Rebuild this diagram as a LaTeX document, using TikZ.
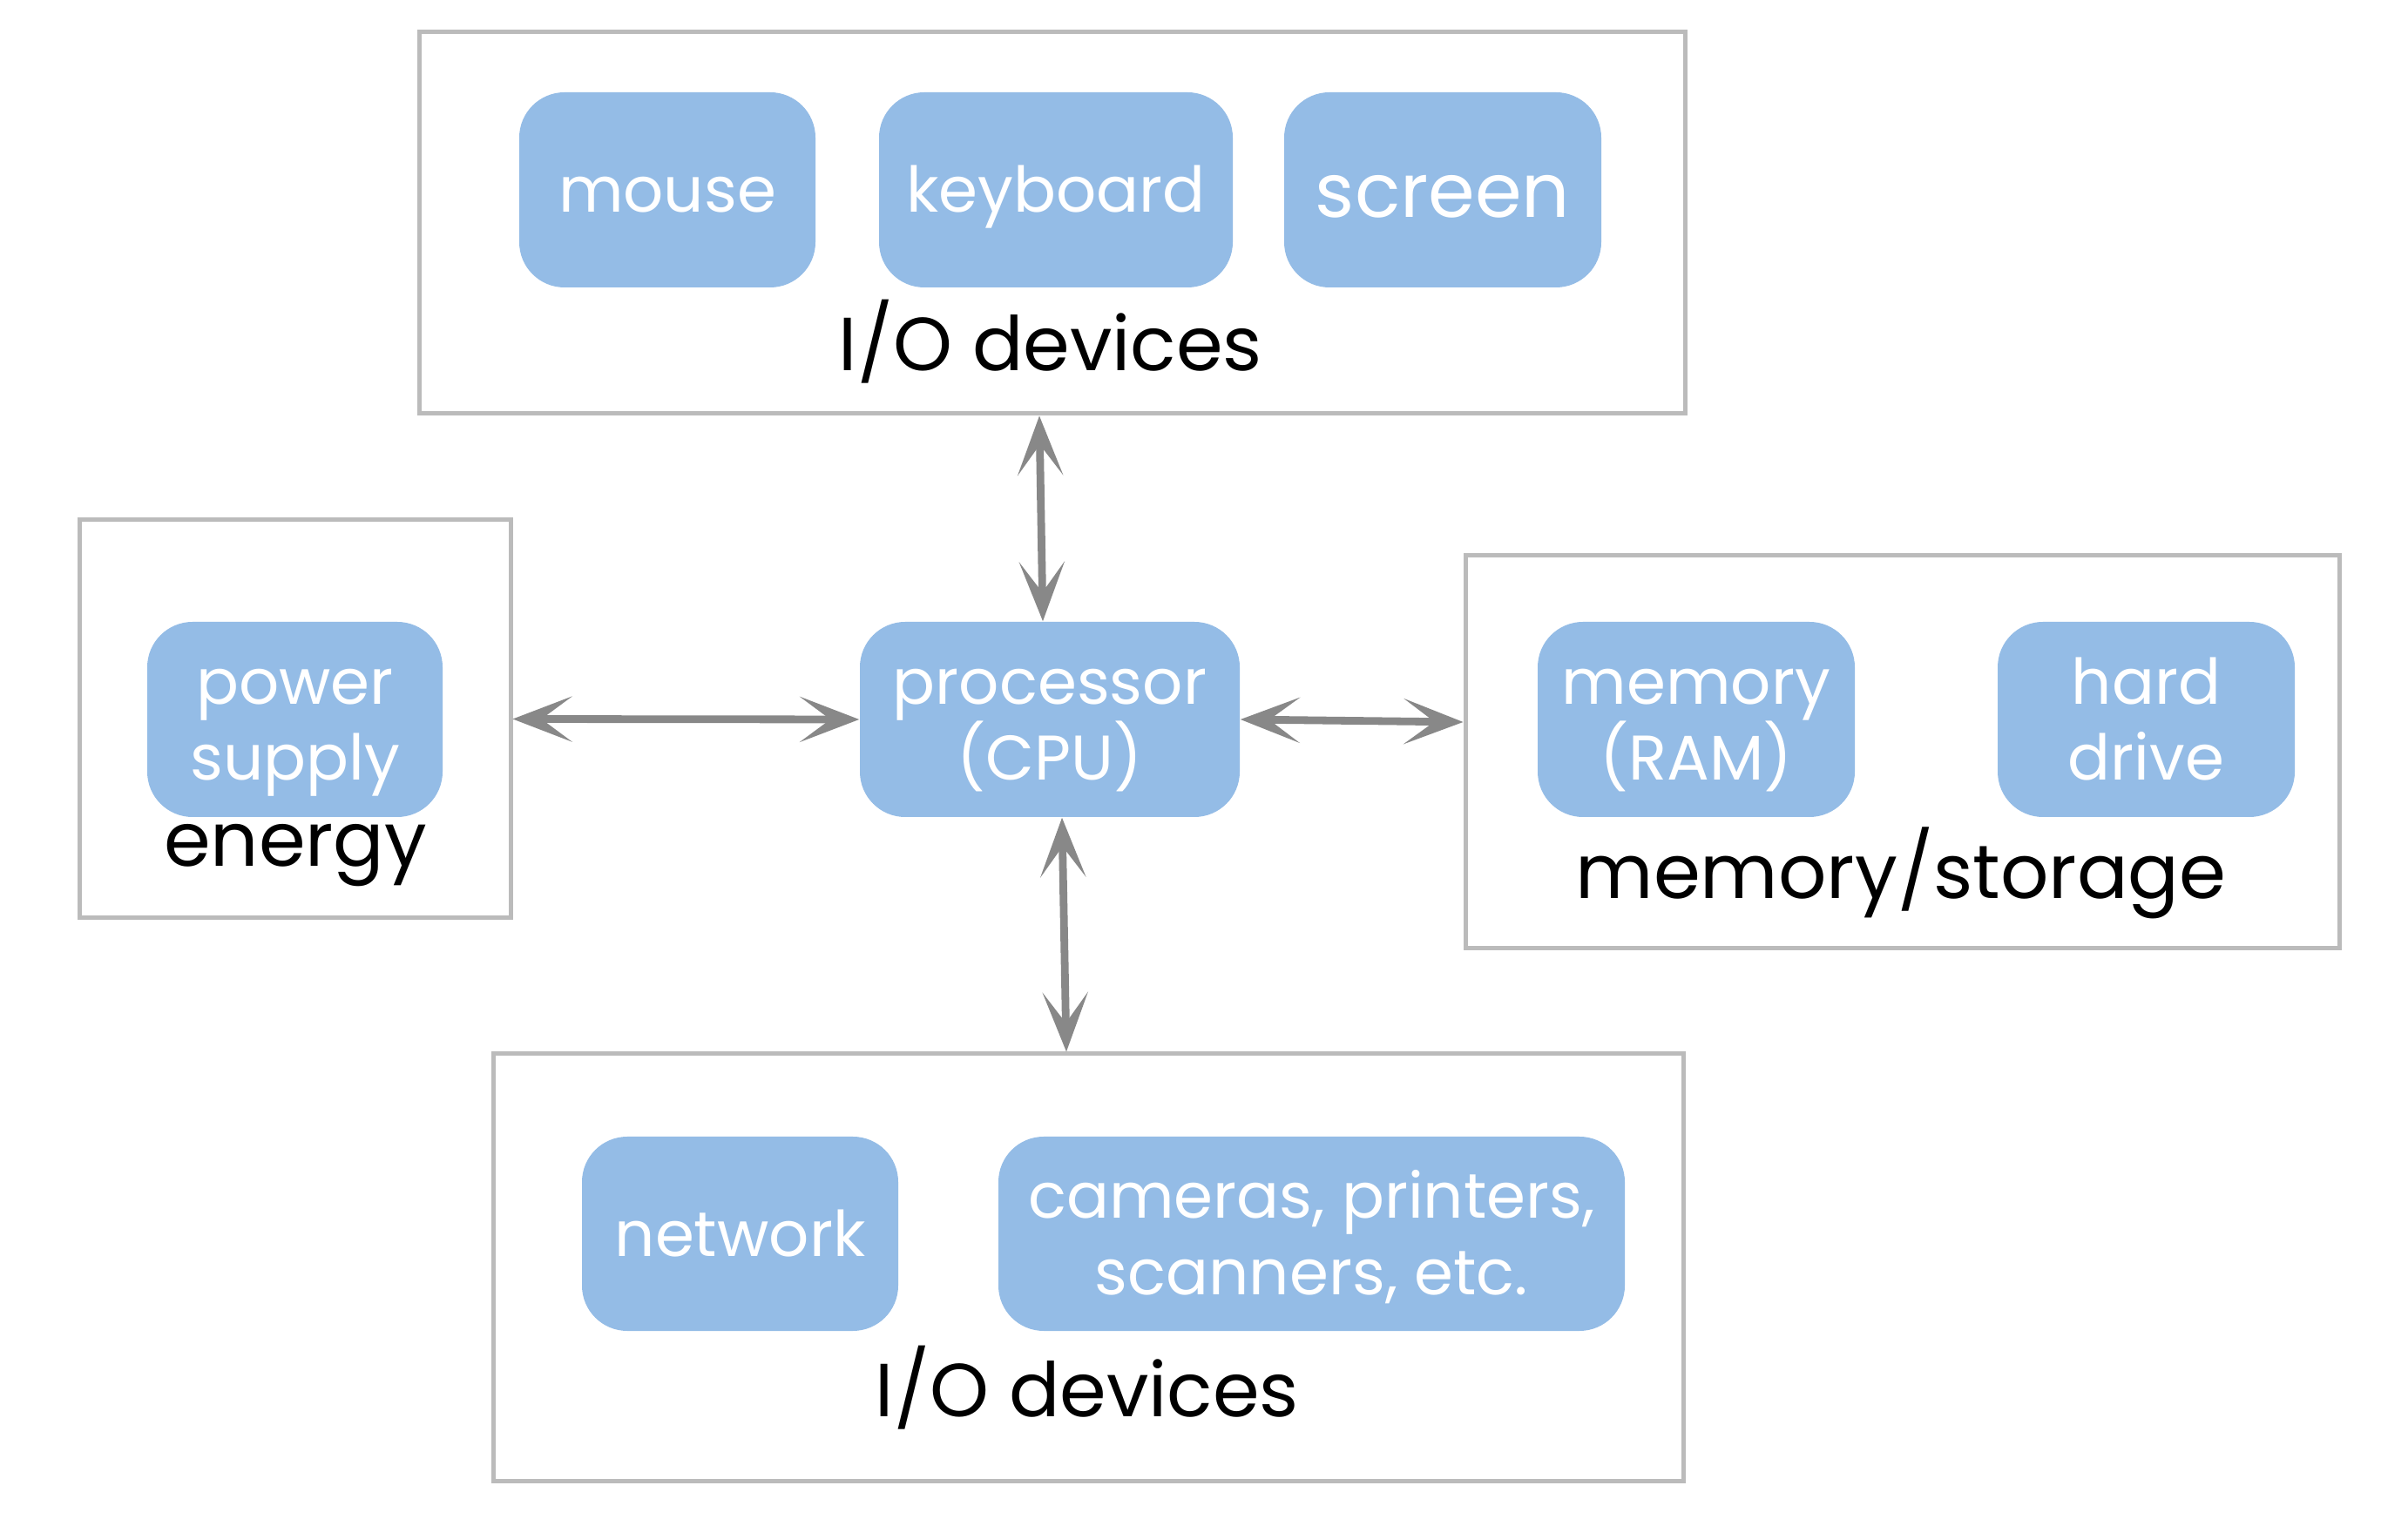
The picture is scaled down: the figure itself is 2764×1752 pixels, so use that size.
\documentclass[tikz,border=0pt]{standalone}
\usepackage{fontspec}
\setmainfont{Poppins}
\usetikzlibrary{arrows.meta,calc}
\definecolor{blobfill}{HTML}{94BCE6}
\definecolor{boxgray}{HTML}{BBBBBB}
\definecolor{arrgray}{HTML}{888888}
\begin{document}
\begin{tikzpicture}[x=0.25pt,y=-0.25pt,
  blob/.style={fill=blobfill, rounded corners=13pt, text=white, minimum height=56pt, inner sep=0pt, align=center, font=\fontsize{18.1}{21.75}\selectfont},
  oneline/.style={text height=13pt, text depth=0pt},
  twoline/.style={text height=35pt, text depth=0pt},
  group/.style={draw=boxgray, line width=1.25pt, inner sep=0pt},
  lab/.style={anchor=base, font=\fontsize{21.6}{26}\selectfont, inner sep=0pt},
  tipx/.tip={Stealth[length=17pt,width=13pt,inset=8.75pt]},
  arr/.style={draw=arrgray, line width=2.2pt, tipx-tipx}]
\fill[white] (0,0) rectangle (2764,1752);
\useasboundingbox (0,0) rectangle (2764,1752);
% group boxes
\node[group, minimum width=363.25pt, minimum height=109.5pt] (topbox) at (1207.5,256) {};
\node[group, minimum width=123.75pt, minimum height=114.25pt] (energybox) at (338.5,825.5) {};
\node[group, minimum width=250.75pt, minimum height=112.75pt] (membox) at (2183.5,863.5) {};
\node[group, minimum width=341.5pt, minimum height=122.5pt] (botbox) at (1249,1455) {};
% blobs
\node[blob, oneline, minimum width=85pt] (mouse) at (766,218) {mouse};
\node[blob, oneline, minimum width=101.5pt] (keyboard) at (1212,218) {keyboard};
\node[blob, minimum width=91pt, font=\fontsize{21.6}{26}\selectfont, text height=16pt, text depth=0pt] (screen) at (1656,218) {screen};
\node[blob, twoline, minimum width=84.75pt] (power) at (338.5,826) {power\\supply};
\node[blob, twoline, minimum width=109pt] (cpu) at (1205,826) {processor\\(CPU)};
\node[blob, twoline, minimum width=91pt] (ram) at (1947,826) {memory\\(RAM)};
\node[blob, twoline, minimum width=85.25pt] (hdd) at (2463.5,826) {hard\\drive};
\node[blob, oneline, minimum width=90.75pt, minimum height=55.75pt] (network) at (849.5,1416.5) {network};
\node[blob, twoline, minimum width=179.75pt, minimum height=55.75pt, text height=34.75pt] (cameras) at (1505.5,1416.5) {cameras, printers,\\scanners, etc.};
% labels
\node[lab] (toplab) at (1206,426) {I/O devices};
\node[lab] (energylab) at (339,995) {energy};
\node[lab, font=\fontsize{21.7}{26}\selectfont] (memlab) at (2182,1032) {memory/storage};
\node[lab] (botlab) at (1248,1626) {I/O devices};
% arrows
\draw[arr] ($(topbox.south)+(-14.5,0)$) -- ($(cpu.north)+(-8,0)$);
\draw[arr] (energybox.east) -- (cpu.west);
\draw[arr] (cpu.east) -- ($(membox.west)+(0,-34.5)$);
\draw[arr] ($(cpu.south)+(14,0)$) -- ($(botbox.north)+(-25,0)$);
\end{tikzpicture}
\end{document}
